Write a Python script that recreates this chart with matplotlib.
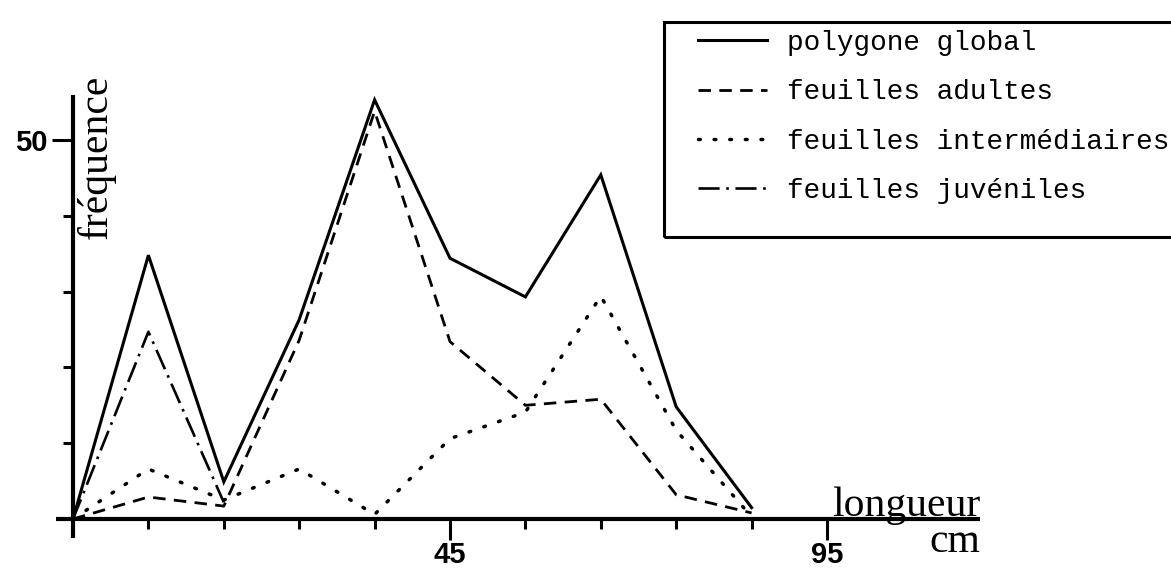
import matplotlib
matplotlib.use("Agg")
import matplotlib.pyplot as plt
from matplotlib.patches import Rectangle
import numpy as np

# class midpoints (cm) and frequencies
classes = [-5, 5, 15, 25, 35, 45, 55, 65, 75, 85]
global_vals = [0, 34.8, 4.9, 26.3, 55.3, 34.4, 29.3, 45.4, 14.8, 1.5]
adult_vals = [0, 2.9, 1.7, 23.6, 53.8, 23.4, 15.0, 15.8, 3.2, 0.8]
inter_vals = [0, 6.6, 2.5, 6.6, 0.6, 10.6, 14.1, 29.4, 11.7, 0.3]
juv_classes = [-5, 5, 15]
juv_vals = [0, 24.7, 2.2]

labels = ["polygone global", "feuilles adultes",
          "feuilles intermédiaires", "feuilles juvéniles"]
x_major = [45, 95]
x_minor = [5, 15, 25, 35, 55, 65, 75, 85]
y_major = [50]
y_minor = [10, 20, 30, 40]

W, H = 1171, 569
fig = plt.figure(figsize=(W / 100, H / 100), dpi=100)
ax = fig.add_axes([0, 0, 1, 1])
ax.set_facecolor("none")

# pixel mapping: x=45 -> 450px, 7.54 px/unit ; y=0 -> 519px, 7.58 px/unit
ax.set_xlim(45 - 450 / 7.54, 45 + (W - 450) / 7.54)
ax.set_ylim(-(H - 519) / 7.58, 519 / 7.58)

l1, = ax.plot(classes, global_vals, color="black", lw=2.2, solid_joinstyle="miter")
l2, = ax.plot(classes, adult_vals, color="black", lw=2.0, linestyle=(0, (4.5, 3)))
l3, = ax.plot(classes, inter_vals, color="black", lw=2.5,
              linestyle=(0, (0.5, 4)), dash_capstyle="round")
l4, = ax.plot(juv_classes, juv_vals, color="black", lw=1.9,
              linestyle=(0, (8, 2.5, 1, 2.5)))

for s in ["top", "right"]:
    ax.spines[s].set_visible(False)
ax.spines["left"].set_position(("data", -5))
ax.spines["bottom"].set_position(("data", 0))
ax.spines["left"].set_bounds(-2.5, 56)
ax.spines["bottom"].set_bounds(-7.2, 115.3)
for s in ["left", "bottom"]:
    ax.spines[s].set_linewidth(3)
    ax.spines[s].set_capstyle("butt")

ax.set_xticks(x_major)
ax.set_xticks(x_minor, minor=True)
ax.set_yticks(y_major)
ax.set_yticks(y_minor, minor=True)
ax.tick_params(which="major", direction="out", length=15, width=2.2,
               labelsize=21, pad=1)
ax.tick_params(axis="y", which="major", pad=3)
ax.tick_params(which="minor", direction="out", length=7, width=2.2)
for t in ax.get_xticklabels() + ax.get_yticklabels():
    t.set_fontfamily("Liberation Sans")
    t.set_fontweight("bold")

serif = "Liberation Serif"
ax.text(-1.9, 47.8, "fréquence", rotation=90, ha="center", va="center",
        fontsize=30, family=serif)
ax.text(115.3, 0.4, "longueur", ha="right", va="baseline",
        fontsize=30, family=serif)
ax.text(115.3, -4.35, "cm", ha="right", va="baseline",
        fontsize=30, family=serif)

# legend box (cut by the right edge like the original)
fig.patches.append(Rectangle((664 / W, 1 - 237 / H), (1190 - 664) / W, (237 - 22) / H,
                             transform=fig.transFigure, fill=False,
                             edgecolor="black", lw=2.2))
leg = fig.legend([l1, l2, l3, l4], labels, loc="upper left",
                 bbox_to_anchor=(698 / W, 1 - 30 / H), frameon=False,
                 prop={"family": "Liberation Mono", "size": 20},
                 handlelength=2.5, handletextpad=0.7, labelspacing=0.84,
                 borderpad=0, borderaxespad=0)

fig.savefig("out.png", dpi=100)
